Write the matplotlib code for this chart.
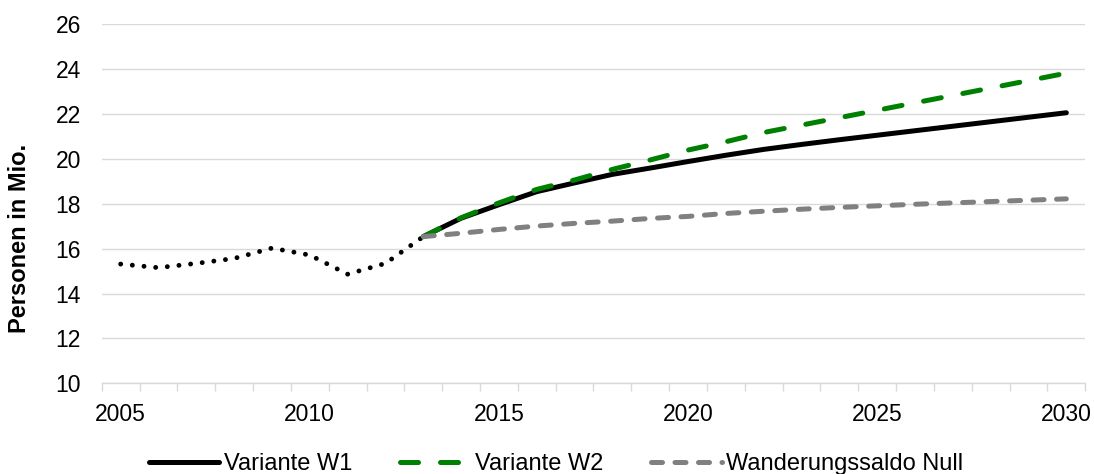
import matplotlib
matplotlib.use("Agg")
import matplotlib.pyplot as plt
import numpy as np

plt.rcParams['font.family'] = ['Liberation Sans', 'DejaVu Sans']

# historical (dotted)
hist_years = [2005, 2006, 2007, 2008, 2009, 2010, 2011, 2012, 2013]
hist_vals = [15.31, 15.15, 15.34, 15.56, 16.02, 15.71, 14.86, 15.34, 16.53]

# projections
proj_years = list(range(2013, 2031))
w1 = [16.53, 17.35, 17.95, 18.53, 18.92, 19.30, 19.58, 19.87, 20.15, 20.41,
      20.63, 20.84, 21.04, 21.24, 21.44, 21.64, 21.84, 22.04]
w2 = [16.53, 17.37, 18.03, 18.63, 19.05, 19.52, 19.94, 20.38, 20.75, 21.16,
      21.49, 21.82, 22.15, 22.48, 22.81, 23.14, 23.47, 23.80]
null = [16.53, 16.68, 16.85, 17.00, 17.12, 17.22, 17.34, 17.43, 17.56, 17.66,
        17.75, 17.83, 17.90, 17.97, 18.03, 18.09, 18.15, 18.21]

fig = plt.figure(figsize=(10.94, 4.74), dpi=100)
ax = fig.add_axes([0.093, 0.191, 0.899, 0.759])

ax.plot(hist_years, hist_vals, color='black', lw=3.5, linestyle=(0, (0.01, 2.4)),
        dash_capstyle='round', solid_capstyle='round')
ax.plot(proj_years, w1, color='black', lw=3.6, solid_capstyle='round', label='Variante W1')
ax.plot(proj_years, w2, color='#008000', lw=3.6, linestyle=(0, (3.6, 4.4)),
        dash_capstyle='round', label='Variante W2')
ax.plot(proj_years, null, color='#808080', lw=3.6, linestyle=(0, (2.2, 2.5)),
        dash_capstyle='round', label='Wanderungssaldo Null')

ax.set_xlim(2004.5, 2030.5)
ax.set_ylim(10, 26)
ax.set_yticks(np.arange(10, 27, 2))
ax.set_xticks([2005, 2010, 2015, 2020, 2025, 2030])
ax.set_xticks(np.arange(2004.5, 2031, 1), minor=True)
ax.grid(axis='y', color='#d9d9d9', lw=1)
ax.set_axisbelow(True)

for s in ['left', 'right', 'top']:
    ax.spines[s].set_visible(False)
ax.spines['bottom'].set_color('#d9d9d9')
ax.spines['bottom'].set_linewidth(1)
ax.tick_params(axis='y', length=0, labelsize=16.5, pad=15)
ax.tick_params(axis='x', which='major', length=0, labelsize=16.5, pad=14)
ax.tick_params(axis='x', which='minor', length=6, color='#d9d9d9', width=1)

ax.set_ylabel('Personen in Mio.', fontsize=17, fontweight='bold')
ax.yaxis.set_label_coords(-0.072, 0.404)

ax.legend(loc='center', bbox_to_anchor=(0.462, -0.225), ncol=3, frameon=False,
          fontsize=17, handlelength=3.0, handletextpad=0.2, columnspacing=2.0)

fig.savefig('out.png', dpi=100)
